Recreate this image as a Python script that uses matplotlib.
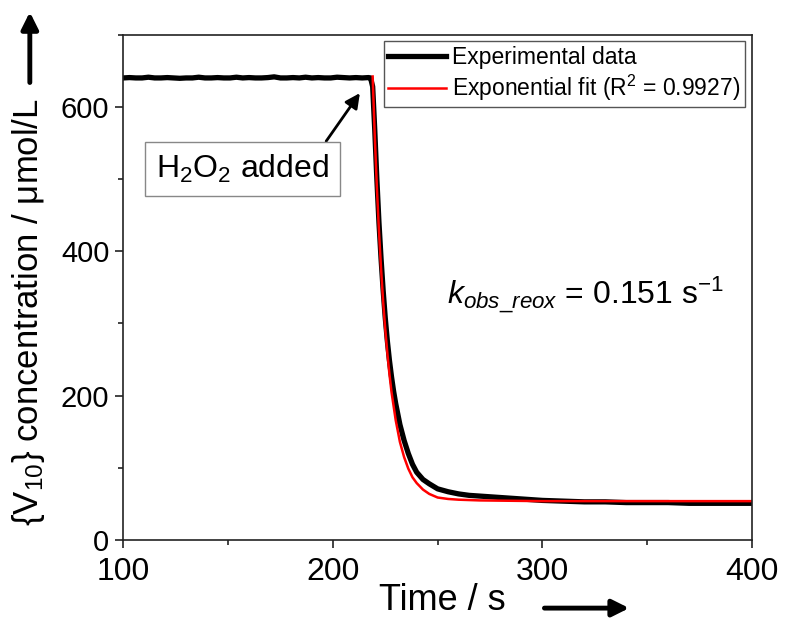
import matplotlib
matplotlib.use('Agg')
import matplotlib.pyplot as plt
from matplotlib.patches import FancyArrowPatch
from matplotlib.ticker import MultipleLocator

plt.rcParams['font.family'] = ['Liberation Sans', 'DejaVu Sans']
plt.rcParams['mathtext.fontset'] = 'custom'
plt.rcParams['mathtext.rm'] = 'Liberation Sans'
plt.rcParams['mathtext.it'] = 'Liberation Sans:italic'

# experimental trace (s, umol/L)
exp_time = [100, 103, 106, 109, 112, 115, 118, 121, 124, 127, 130, 133, 136, 139,
            142, 145, 148, 151, 154, 157, 160, 163, 166, 169, 172, 175, 178, 181,
            184, 187, 190, 193, 196, 199, 202, 205, 208, 211, 214, 217,
            218, 219, 220, 221, 222, 223, 224, 225, 226, 227, 228, 229, 230, 232,
            234, 236, 238, 240, 243, 246, 250, 255, 260, 265, 270, 275, 280, 285,
            290, 295, 300, 310, 320, 330, 340, 350, 360, 370, 380, 390, 400]
exp_conc = [640, 640.5, 640, 640, 641, 640, 640, 640.5, 640, 639.5, 640, 640, 641, 640,
            640, 640.5, 640, 640, 641, 640, 640.5, 640, 640, 640.5, 641.5, 640, 640, 640.5,
            640, 641, 640, 640.5, 640, 640, 641, 640.5, 640, 640.5, 640, 640.5,
            640, 628, 568, 500, 440, 390, 346, 308, 276, 249, 226, 206, 189, 160,
            138, 120, 105, 94, 84, 78, 71, 67, 64, 62, 61, 60, 59, 58,
            57, 56, 55, 54, 53, 53, 52, 52, 52, 51, 51, 51, 51]

# exponential fit
fit_time = [219, 220, 221, 222, 223, 224, 225, 226, 227, 228, 230, 232, 234, 236,
            238, 240, 243, 246, 250, 255, 260, 270, 300, 350, 400]
fit_conc = [642, 560, 489, 428, 376, 330, 292, 259, 230, 205, 166, 136, 115, 99,
            87, 79, 70, 64, 59, 57, 56, 55, 54, 54, 54]

fig = plt.figure(figsize=(7.85, 6.18), dpi=100)
ax = fig.add_axes([0.157, 0.126, 0.801, 0.818])

ax.plot(exp_time, exp_conc, color='black', lw=3.8, label='Experimental data',
        solid_joinstyle='round')
ax.plot(fit_time, fit_conc, color='red', lw=1.8,
        label='Exponential fit (R$^2$ = 0.9927)')

ax.set_xlim(100, 400)
ax.set_ylim(0, 700)
ax.xaxis.set_major_locator(MultipleLocator(100))
ax.xaxis.set_minor_locator(MultipleLocator(50))
ax.yaxis.set_major_locator(MultipleLocator(200))
ax.yaxis.set_minor_locator(MultipleLocator(100))
ax.tick_params(which='major', direction='out', length=6, width=1.2, color='#222222')
ax.tick_params(which='minor', direction='out', length=3.5, width=1.2, color='#222222')
ax.tick_params(axis='x', labelsize=23, pad=6)
ax.tick_params(axis='y', labelsize=21, pad=4)
for sp in ax.spines.values():
    sp.set_linewidth(1.2)
    sp.set_color('#222222')

leg = ax.legend(loc='upper right', fontsize=16.5, handlelength=2.5, handletextpad=0.3,
                borderaxespad=0.3, borderpad=0.2, labelspacing=0.15,
                fancybox=False, framealpha=1)
leg.get_frame().set_edgecolor('#555555')
leg.get_frame().set_linewidth(1.0)

ax.annotate('H$_2$O$_2$ added', xy=(212.9, 619), xytext=(157, 514),
            fontsize=23, ha='center', va='center',
            bbox=dict(boxstyle='square,pad=0.35', fc='white', ec='#888888', lw=1),
            arrowprops=dict(arrowstyle='-|>', color='black', lw=2,
                            mutation_scale=22, relpos=(0.935, 1.0),
                            shrinkA=0, shrinkB=0))

ax.text(254.5, 328, r'$k_{obs\_reox}$ = 0.151 s$^{-1}$', fontsize=23,
        ha='left', va='baseline')

# axis titles with arrows, placed in figure space
fig.text(0.036, 0.495, '{V$_{10}$} concentration / μmol/L', rotation=90,
         fontsize=25, ha='center', va='center')
fig.text(0.563, 0.013, 'Time / s', fontsize=26, ha='center', va='baseline')
fig.add_artist(FancyArrowPatch(
    (0.038, 0.862), (0.038, 0.985), transform=fig.transFigure,
    arrowstyle='-|>', mutation_scale=25, lw=3.5, color='black'))
fig.add_artist(FancyArrowPatch(
    (0.69, 0.016), (0.805, 0.016), transform=fig.transFigure,
    arrowstyle='-|>', mutation_scale=25, lw=3.5, color='black'))

fig.savefig('out.png', dpi=100)
